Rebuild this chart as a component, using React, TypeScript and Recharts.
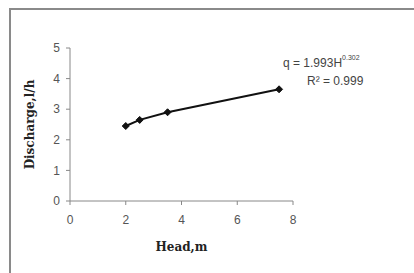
import React from 'react';
import { LineChart, Line, XAxis, YAxis, Customized } from 'recharts';

const heads = [2, 2.5, 3.5, 7.5];
const discharges = [2.45, 2.65, 2.9, 3.65];
const xTicks = [0, 2, 4, 6, 8];
const yTicks = [0, 1, 2, 3, 4, 5];
const equationMain = 'q  = 1.993H';
const equationExp = '0.302';
const rSquared = 'R² = 0.999';

const data = heads.map((h, i) => ({ head: h, q: discharges[i] }));

const Diamond = (props: any) => {
  const { cx, cy } = props;
  if (cx == null || cy == null) return null;
  const s = 3.5;
  return <path d={`M${cx},${cy - s}L${cx + s},${cy}L${cx},${cy + s}L${cx - s},${cy}Z`} fill="#111" stroke="#111" />;
};

const Annotation = () => (
  <g fontFamily="'Liberation Sans', Arial, sans-serif">
    <text x={283} y={67} fontSize={12} fill="#444">{equationMain}<tspan fontSize={7} dy={-7} fill="#444">{equationExp}</tspan></text>
    <text x={307} y={85} fontSize={12} fill="#444">{rSquared}</text>
  </g>
);

const titleFont = "'DejaVu Serif', 'Liberation Serif', serif";
const tickFont = "'Liberation Sans', Arial, sans-serif";

export default function App() {
  return (
    <div style={{ position: 'absolute', left: 0, top: 0, width: 414, height: 273, background: '#fff' }}>
      <div style={{ position: 'absolute', left: 9, top: 8, right: 0, bottom: 0, borderTop: '2px solid #8a8a8a', borderLeft: '2px solid #8a8a8a' }} />
      <div style={{ position: 'absolute', left: 0, top: 0 }}>
        <LineChart width={414} height={273} data={data} margin={{ top: 48, right: 121, bottom: 22, left: 10 }}>
          <XAxis
            dataKey="head"
            type="number"
            domain={[0, 8]}
            ticks={xTicks}
            height={50}
            tickSize={4}
            tickMargin={10}
            stroke="#888"
            tick={{ fill: '#555', fontSize: 12, fontFamily: tickFont }}
            label={{ value: 'Head,m', position: 'insideBottom', offset: 0, fill: '#222', fontSize: 12, fontWeight: 'bold', fontFamily: titleFont }}
          />
          <YAxis
            type="number"
            domain={[0, 5]}
            ticks={yTicks}
            width={60}
            tickSize={4}
            tickMargin={6}
            stroke="#888"
            tick={{ fill: '#555', fontSize: 12, fontFamily: tickFont }}
            label={{ value: 'Discharge,l/h', angle: -90, position: 'center', dx: -10, fill: '#222', fontSize: 12, fontWeight: 'bold', fontFamily: titleFont }}
          />
          <Line
            type="linear"
            dataKey="q"
            stroke="#111"
            strokeWidth={2}
            dot={<Diamond />}
            isAnimationActive={false}
          />
          <Customized component={Annotation} />
        </LineChart>
      </div>
    </div>
  );
}
